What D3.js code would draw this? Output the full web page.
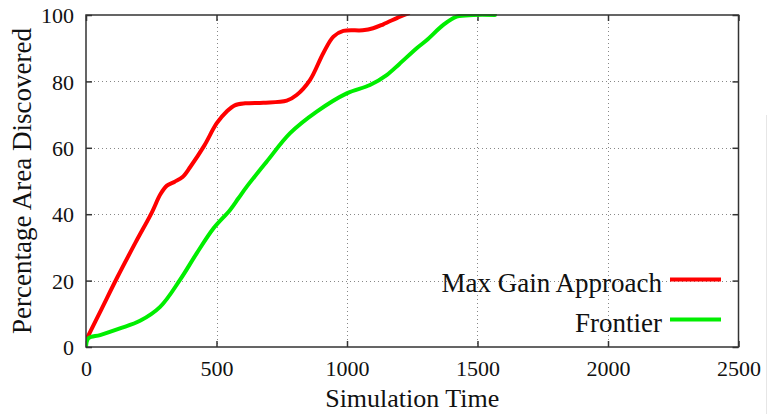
<!DOCTYPE html>
<html>
<head>
<meta charset="utf-8">
<script src="https://cdn.jsdelivr.net/npm/d3@7"></script>
<style>
  html, body { margin: 0; padding: 0; background: #fff; }
  svg { display: block; }
  svg text { font-family: "Liberation Serif", "DejaVu Serif", serif; fill: #111; }
</style>
</head>
<body>
<svg id="chart" width="769" height="414"></svg>
<script>
// Exploration progress over time for two strategies
const maxGainTime = [0, 60, 120, 190, 252, 285, 310, 340, 370, 400, 452, 501, 540, 570, 610, 679, 769, 807, 858, 909, 948, 986, 1060, 1100, 1139, 1203, 1235];
const maxGainPct  = [2, 11.5, 21, 31.5, 40.5, 46, 48.6, 49.8, 51.2, 54.3, 60.5, 67.4, 71, 72.8, 73.4, 73.6, 74.2, 75.9, 80.4, 88.5, 93.5, 95.2, 95.4, 96, 97.2, 99.5, 100.5];

const frontierTime = [0, 9, 54, 130, 207, 284, 360, 424, 488, 552, 584, 616, 692, 782, 884, 999, 1088, 1152, 1200, 1267, 1305, 1369, 1420, 1484, 1567];
const frontierPct  = [0, 2.6, 3.6, 5.6, 7.9, 12.1, 20.2, 28.2, 35.7, 41.3, 44.8, 48.3, 55.8, 64.4, 70.9, 76.4, 78.9, 81.9, 85.2, 90, 92.4, 97, 99.5, 100, 100];

const xTicks = [0, 500, 1000, 1500, 2000, 2500];
const yTicks = [0, 20, 40, 60, 80, 100];

const seriesNames  = ["Max Gain Approach", "Frontier"];
const seriesColors = ["#ff0000", "#00ee00"];

const FONT = "'Liberation Serif', 'DejaVu Serif', serif";
const svg = d3.select("#chart");
const W = 769, H = 414;
const margin = { left: 86, top: 15, right: W - 738.5, bottom: H - 347 };
const x = d3.scaleLinear().domain([0, 2500]).range([margin.left, W - margin.right]);
const y = d3.scaleLinear().domain([0, 100]).range([H - margin.bottom, margin.top]);

const x0 = x.range()[0], x1 = x.range()[1];
const y0 = y.range()[0], y1 = y.range()[1];

// faint page edge on the right
svg.append("line").attr("x1", 766.5).attr("x2", 766.5).attr("y1", 115).attr("y2", 414)
  .attr("stroke", "#e6e6e6").attr("stroke-width", 1);

// dotted grid
const grid = svg.append("g").attr("stroke", "#888").attr("stroke-width", 1).attr("stroke-dasharray", "1,3");
grid.selectAll(".gx").data(xTicks.slice(1, -1)).join("line")
  .attr("x1", d => Math.round(x(d)) + 0.5).attr("x2", d => Math.round(x(d)) + 0.5)
  .attr("y1", y1).attr("y2", y0);
grid.selectAll(".gy").data(yTicks.slice(1, -1)).join("line")
  .attr("y1", d => Math.round(y(d)) + 0.5).attr("y2", d => Math.round(y(d)) + 0.5)
  .attr("x1", x0).attr("x2", x1);

// axes with inward ticks, mirrored on top and right
const fs = "22px";
const bottomAxis = d3.axisBottom(x).tickValues(xTicks).tickSize(-6).tickPadding(14).tickFormat(d3.format("d"));
const leftAxis = d3.axisLeft(y).tickValues(yTicks).tickSize(-6).tickPadding(12).tickFormat(d3.format("d"));

const gb = svg.append("g").attr("transform", `translate(0,${y0})`).call(bottomAxis);
const gl = svg.append("g").attr("transform", `translate(${x0},0)`).call(leftAxis);
const gt = svg.append("g").attr("transform", `translate(0,${y1})`).call(d3.axisTop(x).tickValues(xTicks).tickSize(-6).tickFormat(""));
const gr = svg.append("g").attr("transform", `translate(${x1},0)`).call(d3.axisRight(y).tickValues(yTicks).tickSize(-6).tickFormat(""));

[gb, gl, gt, gr].forEach(g => {
  g.attr("font-family", FONT);
  g.select(".domain").remove();
  g.selectAll(".tick line").attr("stroke", "#333").attr("stroke-width", 1.5);
  g.selectAll("text").style("font-family", FONT).style("font-size", fs).attr("fill", "#111");
});
gb.selectAll("text").attr("dy", "0.68em");
gl.selectAll("text").attr("dy", "0.35em");

// data lines
const clipId = "plot-clip";
svg.append("clipPath").attr("id", clipId).append("rect")
  .attr("x", x0).attr("y", y1 - 1).attr("width", x1 - x0).attr("height", y0 - y1 + 1);

const line = d3.line().x(d => x(d[0])).y(d => y(d[1])).curve(d3.curveCatmullRom.alpha(0.5));
const series = [
  d3.zip(maxGainTime, maxGainPct),
  d3.zip(frontierTime, frontierPct)
];
svg.append("g").attr("clip-path", `url(#${clipId})`)
  .selectAll("path").data(series).join("path")
  .attr("d", line)
  .attr("fill", "none")
  .attr("stroke", (d, i) => seriesColors[i])
  .attr("stroke-width", 4)
  .attr("stroke-linejoin", "round")
  .attr("stroke-linecap", "round");

// frame
svg.append("rect").attr("x", x0).attr("y", y1).attr("width", x1 - x0).attr("height", y0 - y1)
  .attr("fill", "none").attr("stroke", "#333").attr("stroke-width", 1.5);

// legend
const legend = svg.append("g");
const legendY = [y(20) + 1.5, y(20) + 41.5];
seriesNames.forEach((name, i) => {
  legend.append("text").attr("x", 662).attr("y", legendY[i]).attr("dy", "0.35em")
    .attr("text-anchor", "end").style("font-family", FONT).style("font-size", "27px").text(name);
  legend.append("line").attr("x1", 670).attr("x2", 721)
    .attr("y1", legendY[i] - 2.5).attr("y2", legendY[i] - 2.5)
    .attr("stroke", seriesColors[i]).attr("stroke-width", 4);
});

// axis titles
svg.append("text").attr("x", (x0 + x1) / 2).attr("y", 407)
  .attr("text-anchor", "middle").style("font-family", FONT).style("font-size", "26px").text("Simulation Time");
svg.append("text").attr("transform", `translate(31,${(y0 + y1) / 2}) rotate(-90)`)
  .attr("text-anchor", "middle").style("font-family", FONT).style("font-size", "27px").text("Percentage Area Discovered");
</script>
</body>
</html>
